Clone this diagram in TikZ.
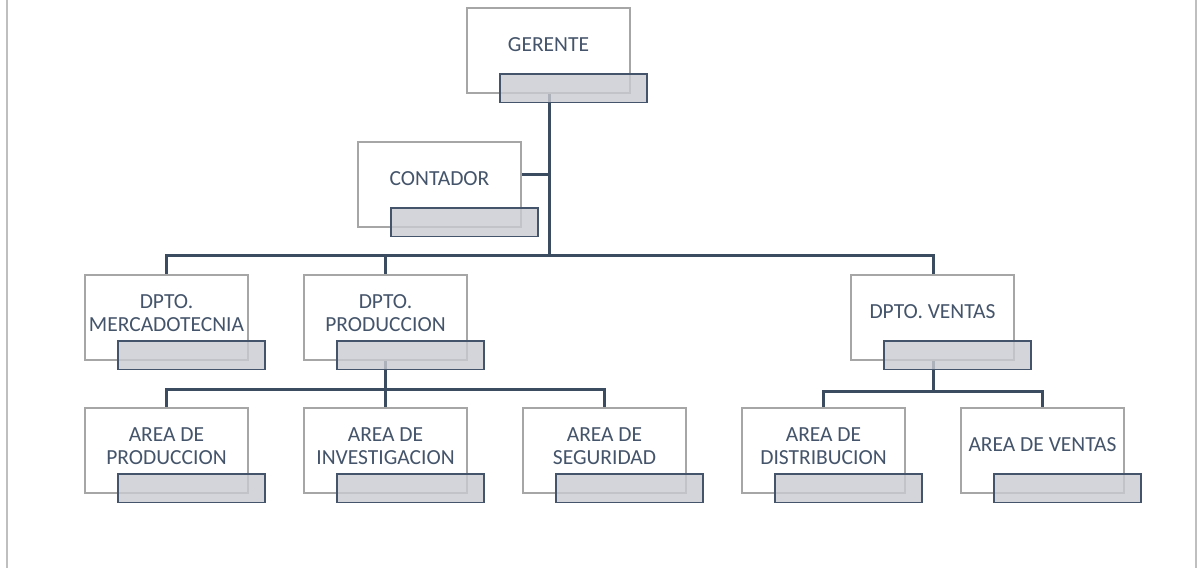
\documentclass[tikz,border=0pt]{standalone}
\usepackage{fontspec}
\setmainfont{Carlito}
\definecolor{slate}{HTML}{44546A}
\definecolor{lineC}{HTML}{3B4B60}
\definecolor{boxgray}{HTML}{A6A6A6}
\definecolor{gfill}{HTML}{C9CBD1}
\definecolor{frameC}{HTML}{BFBFBF}
\tikzset{
  wbox/.style={draw=boxgray, fill=white, line width=1.4pt, minimum width=163pt, minimum height=85pt, inner sep=0pt, outer sep=0pt},
  gbox/.style={draw=slate, fill=gfill, fill opacity=0.8, line width=1.4pt, minimum width=147pt, minimum height=28.5pt, inner sep=0pt, outer sep=0pt},
  conn/.style={draw=lineC, line width=3pt},
  lbl/.style={text=slate, font=\fontsize{21.5}{22.5}\selectfont, align=center, inner sep=0pt},
  framel/.style={draw=frameC, line width=2pt}
}
% \orgbox{name}{left x}{top y}{text}{text dy}
\newcommand{\orgbox}[5]{%
  \node[wbox] (#1) at (#2+81.5,#3+42.5) {};
  \node[lbl] (#1t) at (#2+81.5,#3+42.5-#5) {#4};
}
\newcommand{\orggray}[3]{%
  \node[gbox] (#1g) at (#2+106.5,#3+80.25) {};
}
\begin{document}
\begin{tikzpicture}[x=1pt,y=-1pt]
\useasboundingbox (0,0) rectangle (1198,568);
\draw[framel] (6.5,0) coordinate (fl1) -- (6.5,568) coordinate (fl2);
\draw[framel] (1195.5,0) coordinate (fr1) -- (1195.5,568) coordinate (fr2);

% junction coordinates
\coordinate (j1) at (549.5,255);
\coordinate (jc) at (549.5,174);
\coordinate (j2) at (385.5,389);
\coordinate (j3) at (933,391);

% connectors (drawn first, under boxes)
\coordinate (gerc) at (549.5,50.5);
\coordinate (conr) at (522,174);
\coordinate (merc) at (166.5,317.5);
\coordinate (proc) at (385.5,317.5);
\coordinate (venc) at (933,317.5);
\coordinate (apc) at (166.5,450.5);
\coordinate (aic) at (385.5,450.5);
\coordinate (asc) at (604.5,450.5);
\coordinate (adc) at (823.5,450.5);
\coordinate (avc) at (1042.5,450.5);

\draw[conn] (gerc) -- (j1);
\draw[conn] (conr) -- (jc);
\draw[conn] (merc) |- (j1);
\draw[conn] (proc) -- (proc |- j1);
\draw[conn] (venc) |- (j1);
\draw[conn] (proc) -- (j2);
\draw[conn] (apc) |- (j2);
\draw[conn] (aic) -- (j2);
\draw[conn] (asc) |- (j2);
\draw[conn] (venc) -- (j3);
\draw[conn] (adc) |- (j3);
\draw[conn] (avc) |- (j3);

% white boxes with text
\orgbox{ger}{467}{8}{GERENTE}{6}
\orgbox{con}{358}{142}{CONTADOR}{6}
\orgbox{mer}{85}{275}{DPTO.\\MERCADOTECNIA}{4.5}
\orgbox{pro}{304}{275}{DPTO.\\PRODUCCION}{4.5}
\orgbox{ven}{851}{275}{DPTO. VENTAS}{6}
\orgbox{ap}{85}{408}{AREA DE\\PRODUCCION}{4.5}
\orgbox{ai}{304}{408}{AREA DE\\INVESTIGACION}{4.5}
\orgbox{as}{523}{408}{AREA DE\\SEGURIDAD}{4.5}
\orgbox{ad}{742}{408}{AREA DE\\DISTRIBUCION}{4.5}
\orgbox{av}{961}{408}{AREA DE VENTAS}{6}

% gray boxes (semi-transparent, on top)
\orggray{ger}{467}{8}
\orggray{con}{358}{142}
\orggray{mer}{85}{275}
\orggray{pro}{304}{275}
\orggray{ven}{851}{275}
\orggray{ap}{85}{408}
\orggray{ai}{304}{408}
\orggray{as}{523}{408}
\orggray{ad}{742}{408}
\orggray{av}{961}{408}
\end{tikzpicture}
\end{document}
